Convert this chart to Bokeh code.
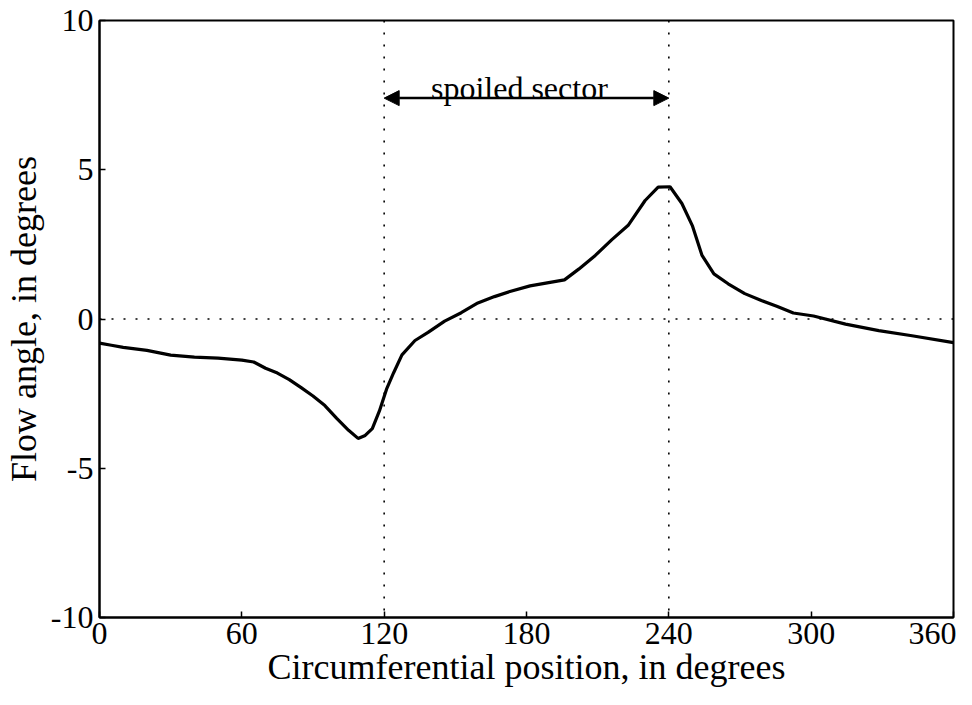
from bokeh.plotting import figure
from bokeh.models import Range1d, FixedTicker, Span, Arrow, NormalHead
from bokeh.core.properties import value
from bokeh.embed import file_html
from bokeh.resources import INLINE

# Data
position_deg = [0, 5, 10, 20, 30, 40, 50, 60, 65, 70, 75, 80, 85, 90, 95, 100, 105,
                109, 112, 115, 118, 121, 124, 127.5, 133, 138.5, 145.5, 152.5, 159.5,
                166.5, 173, 181.5, 196, 202, 209, 216, 223, 230, 235.5, 240.5, 245.5,
                250, 254, 259, 265, 272, 279, 285.5, 292.5, 301, 314.5, 328.5, 342.5, 360]
flow_angle = [-0.81, -0.88, -0.95, -1.05, -1.21, -1.28, -1.31, -1.38, -1.44, -1.65,
              -1.81, -2.03, -2.30, -2.58, -2.90, -3.33, -3.73, -4.00, -3.90, -3.67,
              -3.08, -2.35, -1.80, -1.20, -0.72, -0.45, -0.07, 0.21, 0.54, 0.75, 0.92,
              1.11, 1.31, 1.67, 2.13, 2.66, 3.15, 3.97, 4.42, 4.43, 3.87, 3.11, 2.13,
              1.51, 1.18, 0.85, 0.62, 0.43, 0.20, 0.10, -0.17, -0.39, -0.56, -0.79]

x_ticks = [0, 60, 120, 180, 240, 300, 360]
x_tick_labels = ["0", "60", "120", "180", "240", "300", "360"]
y_ticks = [-10, -5, 0, 5, 10]
y_tick_labels = ["-10", "-5", "0", "5", "10"]
sector_start = 120
sector_end = 240
arrow_y = 7.4
label_x = 177
label_y = 7.75
label_text = "spoiled sector"

FONT = "Liberation Serif"
TICK_FS = "32px"
LABEL_FS = "36px"

p = figure(width=956, height=689, output_backend="svg", toolbar_location=None,
           x_range=Range1d(0, 360), y_range=Range1d(-10, 10),
           min_border_left=88, min_border_top=20, min_border_right=3, min_border_bottom=70)
p.background_fill_color = "white"
p.border_fill_color = "white"
p.outline_line_color = "black"
p.outline_line_width = 2
p.xgrid.visible = False
p.ygrid.visible = False

for ax, ticks, labels, title in ((p.xaxis[0], x_ticks, x_tick_labels,
                                  "Circumferential position, in degrees"),
                                 (p.yaxis[0], y_ticks, y_tick_labels,
                                  "Flow angle, in degrees")):
    ax.ticker = FixedTicker(ticks=ticks)
    ax.major_label_overrides = dict(zip(ticks, labels))
    ax.axis_label = title
    ax.axis_label_text_font = FONT
    ax.axis_label_text_font_size = LABEL_FS
    ax.axis_label_text_font_style = "normal"
    ax.axis_label_text_color = "black"
    ax.major_label_text_font = FONT
    ax.major_label_text_font_size = TICK_FS
    ax.major_label_text_color = "black"
    ax.axis_line_color = "black"
    ax.axis_line_width = 2
    ax.major_tick_in = 6
    ax.major_tick_out = 0
    ax.major_tick_line_color = "black"
    ax.major_tick_line_width = 1.5
    ax.minor_tick_line_color = None

p.xaxis[0].major_label_standoff = 5
p.xaxis[0].axis_label_standoff = 0
p.yaxis[0].major_label_standoff = 6
p.yaxis[0].axis_label_standoff = 4

for loc, dim in ((sector_start, "height"), (sector_end, "height"), (0, "width")):
    p.add_layout(Span(location=loc, dimension=dim, line_color="black",
                      line_width=1.6, line_dash="2 10"))

p.line(position_deg, flow_angle, line_color="black", line_width=3.2)

p.add_layout(Arrow(start=NormalHead(size=15, fill_color="black", line_color="black"),
                   end=NormalHead(size=15, fill_color="black", line_color="black"),
                   x_start=sector_start, x_end=sector_end, y_start=arrow_y, y_end=arrow_y,
                   line_color="black", line_width=2.5))

p.text(x=[label_x], y=[label_y], text=[label_text], text_font=value(FONT),
       text_font_size="32px", text_align="center", text_baseline="alphabetic",
       text_color="black")

open("out.html", "w").write(file_html(p, INLINE))
